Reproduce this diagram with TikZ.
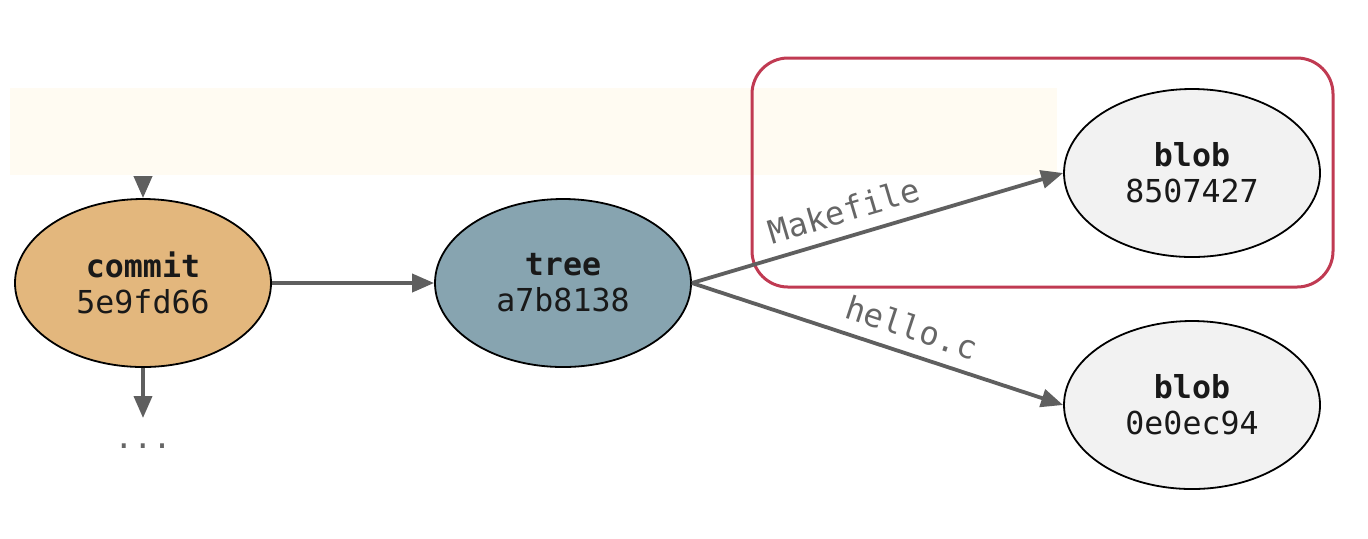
\documentclass[tikz,border=0pt]{standalone}
\usepackage{fontspec}
\setmonofont{DejaVu Sans Mono}
\usetikzlibrary{shapes.geometric,arrows.meta}
\definecolor{commitfill}{HTML}{E3B77D}
\definecolor{treefill}{HTML}{87A4B0}
\definecolor{blobfill}{HTML}{F2F2F2}
\definecolor{edgegray}{HTML}{5F5F5F}
\definecolor{labelgray}{HTML}{666666}
\definecolor{boxred}{HTML}{C03A52}
\definecolor{paleband}{HTML}{FFFBF2}
\begin{document}
\begin{tikzpicture}[x=0.5pt,y=-0.5pt,
  obj/.style={ellipse,draw=black,line width=0.9pt,inner sep=0pt,
    minimum width=128pt,minimum height=84pt,align=center,
    font=\ttfamily\fontsize{15.8}{18}\selectfont,text=black!90},
  edge/.style={draw=edgegray,line width=1.9pt,-{Triangle[length=11pt,width=9pt]}},
  elabel/.style={font=\ttfamily\fontsize{16.2}{18}\selectfont,text=labelgray,sloped,above=5pt,inner sep=1pt}]
\useasboundingbox (0,0) rectangle (1368,538);
\fill[paleband] (10,88) rectangle (1057,175);
\draw[boxred,line width=1.5pt,rounded corners=18pt] (752,58) rectangle (1333,287);
\node[obj,fill=commitfill] (commit) at (143,283) {\textbf{commit}\\5e9fd66};
\node[obj,fill=treefill] (tree) at (563,283) {\textbf{tree}\\a7b8138};
\node[obj,fill=blobfill] (blob1) at (1192,173) {\textbf{blob}\\8507427};
\node[obj,fill=blobfill] (blob2) at (1192,405) {\textbf{blob}\\0e0ec94};
\coordinate (top) at (143,176);
\coordinate (bot) at (143,418);
\node[font=\ttfamily\fontsize{15.8}{18}\selectfont,text=labelgray] (dots) at (143,446) {...};
\draw[edge] (top) -- (commit);
\draw[edge] (commit) -- (bot);
\draw[edge] (commit) -- (tree);
\draw[edge] (tree.east) -- node[elabel,pos=0.43] {Makefile} (blob1.west);
\draw[edge] (tree.east) -- node[elabel,pos=0.57] {hello.c} (blob2.west);
\end{tikzpicture}
\end{document}
